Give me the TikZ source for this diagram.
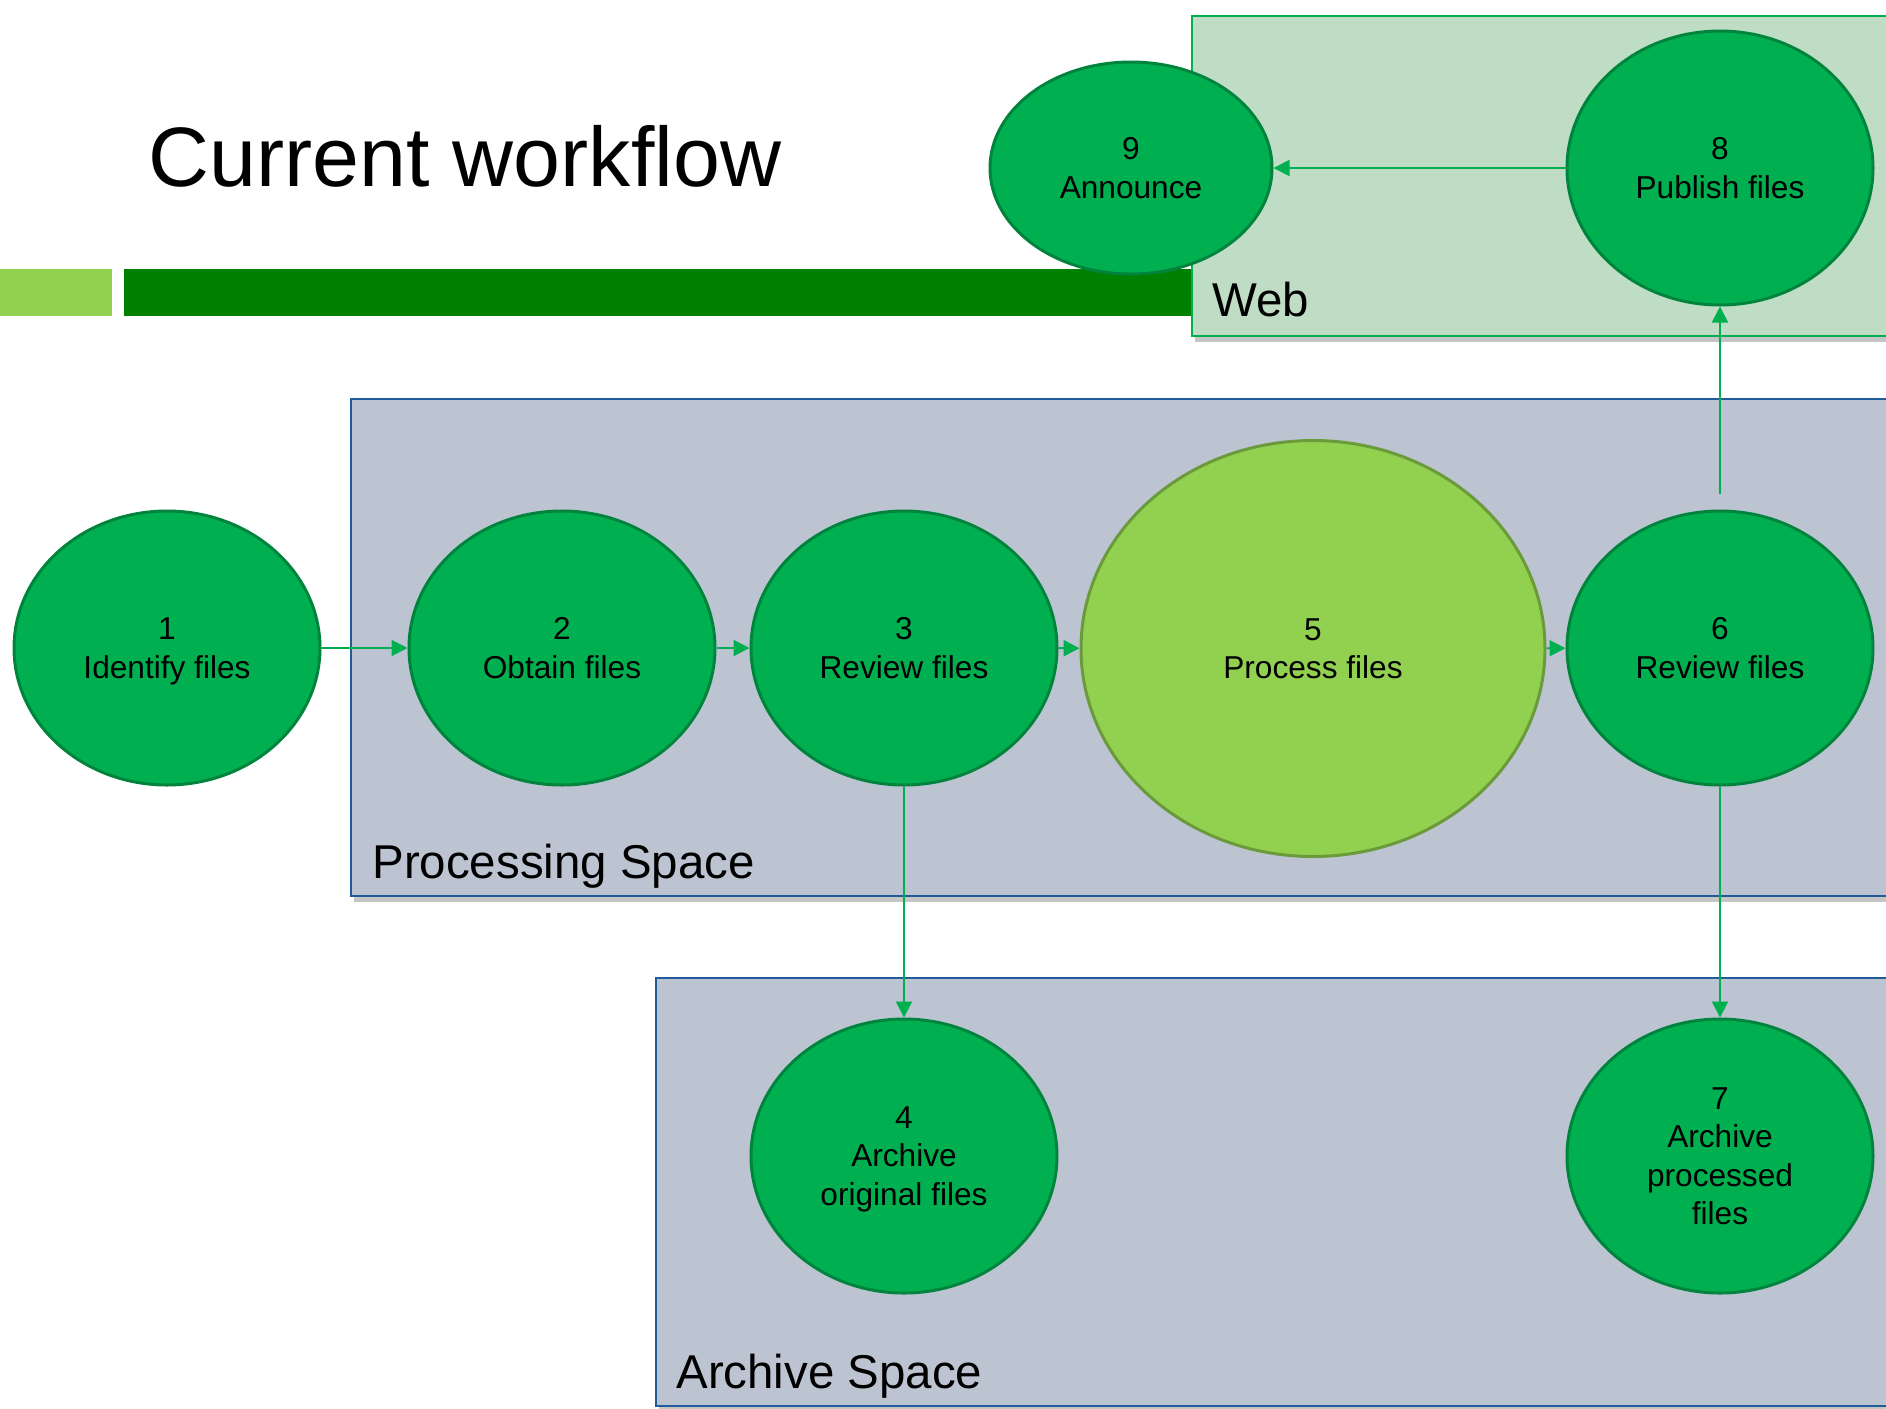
\documentclass[tikz,border=0pt]{standalone}
\usepackage{fontspec}
\setmainfont{Liberation Sans}
\usetikzlibrary{arrows.meta,shapes.geometric,shadows}
\definecolor{StageGreen}{HTML}{00B050}
\definecolor{StageEdge}{HTML}{00843D}
\definecolor{LimeGreen}{HTML}{92D050}
\definecolor{LimeEdge}{HTML}{6B9A3B}
\definecolor{BarGreen}{HTML}{008000}
\definecolor{SpaceGrey}{HTML}{BCC4D2}
\definecolor{SpaceEdge}{HTML}{1F5C99}
\definecolor{WebTint}{HTML}{BFDDC4}

\begin{document}
\begin{tikzpicture}[
  stage/.style={ellipse,draw=StageEdge,line width=1.7pt,fill=StageGreen,minimum width=6.12cm,minimum height=5.48cm,align=center,text depth=0pt,font=\fontsize{18}{21.9}\selectfont},
  bigstage/.style={stage,draw=LimeEdge,fill=LimeGreen,minimum width=9.28cm,minimum height=8.32cm},
  space/.style={draw=SpaceEdge,line width=1.1pt,fill=SpaceGrey,drop shadow={shadow xshift=0.06cm,shadow yshift=-0.12cm,opacity=0.45}},
  webspace/.style={space,draw=StageGreen,fill=WebTint},
  spacelabel/.style={anchor=base west,inner sep=0pt,font=\fontsize{27}{32}\selectfont},
  arr/.style={-{Triangle[length=0.32cm,width=0.32cm]},line width=1.1pt,draw=StageGreen,fill=StageGreen}
]
\clip (0,0) rectangle (37.72,-28.16);
\fill[white] (0,0) rectangle (37.72,-28.16);

% title and header bars
\node[anchor=base west,inner sep=0pt,font=\fontsize{48}{56}\selectfont] (title) at (2.96,-3.72) {Current workflow};
\fill[LimeGreen] (0,-5.38) rectangle (2.24,-6.32);
\fill[BarGreen] (2.48,-5.38) rectangle (23.84,-6.32);

% the three spaces
\draw[webspace] (23.84,-0.32) rectangle (38.5,-6.72);
\draw[space] (7.02,-7.98) rectangle (38.5,-17.92);
\draw[space] (13.12,-19.56) rectangle (38.5,-28.12);
\node[spacelabel] (web) at (24.24,-6.32) {Web};
\node[spacelabel] (procspace) at (7.44,-17.56) {Processing Space};
\node[spacelabel] (archspace) at (13.52,-27.76) {Archive Space};

% workflow stages
\node[stage] (identify) at (3.34,-12.96) {1\\Identify files};
\node[stage] (obtain) at (11.24,-12.96) {2\\Obtain files};
\node[stage] (review) at (18.08,-12.96) {3\\Review files};
\node[bigstage] (process) at (26.26,-12.97) {5\\Process files};
\node[stage] (check) at (34.40,-12.96) {6\\Review files};
\node[stage] (archorig) at (18.08,-23.12) {4\\Archive\\original files};
\node[stage] (archproc) at (34.40,-23.12) {7\\Archive\\processed\\files};
\node[stage] (publish) at (34.40,-3.36) {8\\Publish files};
\node[stage,minimum width=5.64cm,minimum height=4.24cm] (announce) at (22.62,-3.36) {9\\Announce};

\draw[arr] (identify) -- (obtain);
\draw[arr] (obtain) -- (review);
\draw[arr] (review) -- (process);
\draw[arr] (process) -- (check);
\draw[arr] (review) -- (archorig);
\draw[arr] (check) -- (archproc);
\draw[arr,shorten <=0.32cm] (check) -- (publish);
\draw[arr] (publish) -- (announce);
\end{tikzpicture}
\end{document}
